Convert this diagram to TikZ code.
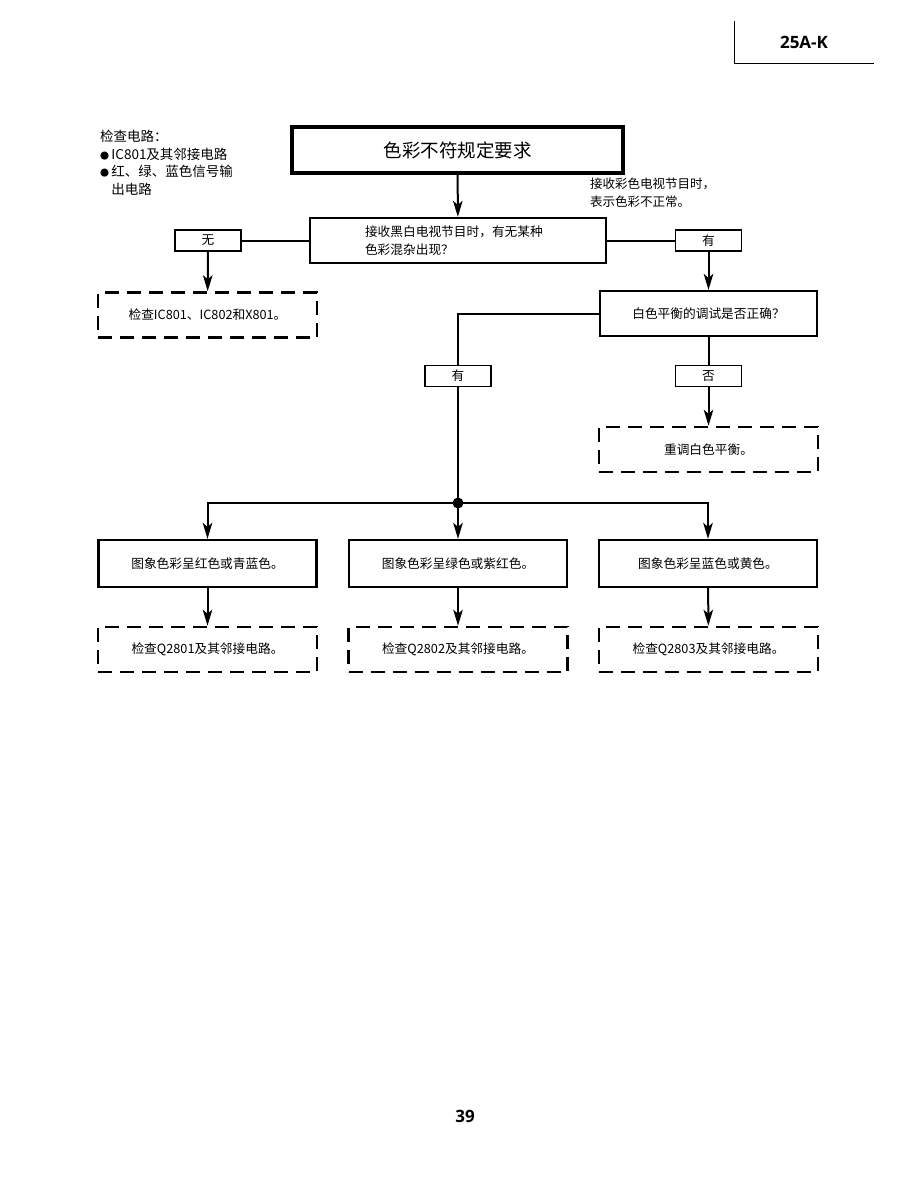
\documentclass[tikz,border=0pt]{standalone}
\usepackage{fontspec}
\setmainfont{Noto Sans CJK SC}
\newfontfamily\headfont{Open Sans}
\usetikzlibrary{arrows.meta,positioning}
\newcommand{\bul}{{\fontsize{9}{9}\selectfont●}\,}

\begin{document}
\begin{tikzpicture}[
  x=1pt, y=-1pt,
  font=\fontsize{12.7}{15}\selectfont,
  >={Stealth[length=16pt,width=9.5pt,inset=4pt]},
  titlebox/.style={rectangle, draw, line width=3.2pt, align=center,
                   minimum width=331pt, minimum height=46pt,
                   font=\fontsize{18.5}{21}\selectfont},
  askbox/.style={rectangle, draw, line width=2.2pt, align=center,
                 minimum height=45pt},
  tagbox/.style={rectangle, draw, line width=1.2pt, minimum width=66pt,
                 minimum height=21pt, inner sep=0pt},
  chkbox/.style={rectangle, draw, line width=2.5pt,
                 dash pattern=on 14pt off 8pt, minimum width=219pt,
                 minimum height=45pt, align=center},
  resbox/.style={askbox, minimum width=218pt, minimum height=47pt},
  edge/.style={->, line width=2pt},
  link/.style={line width=2pt},
  dot/.style={circle, fill, inner sep=0pt, minimum size=11pt},
  note/.style={align=left, anchor=north west, inner sep=0pt,
               font=\fontsize{13.5}{17.5}\selectfont},
]
\useasboundingbox (0,0) rectangle (918,1188);

% page header and number
\coordinate (hdtop) at (734,21);
\coordinate (hdcorner) at (734,64);
\coordinate (hdend) at (874,64);
\draw[line width=1pt] (hdtop) -- (hdcorner) -- (hdend);
\node[font=\headfont\bfseries\fontsize{17}{20}\selectfont] (model) at (804,42) {25A-K};
\node[font=\headfont\bfseries\fontsize{17}{20}\selectfont] (pageno) at (465,1116) {39};

% side notes
\node[note] (chknote) at (100,130)
  {检查电路：\\\bul IC801及其邻接电路\\\bul 红、绿、蓝色信号输\\\phantom{\bul}出电路};
\node[note, font=\fontsize{12.5}{17.5}\selectfont] (colnote) at (590,178)
  {接收彩色电视节目时，\\表示色彩不正常。};

% main chain
\node[titlebox] (fault) at (457.5,150) {色彩不符规定要求};
\node[askbox, minimum width=296pt, text width=186pt, align=left,
      font=\fontsize{12.7}{18}\selectfont] (bwask) at (458,240.5)
  {接收黑白电视节目时，有无某种\\色彩混杂出现？};
\node[tagbox] (tagno) at (208,240.5) {无};
\node[tagbox] (tagyes) at (708.5,240.5) {有};
\node[chkbox] (chkic) at (207.5,315) {检查IC801、IC802和X801。};
\node[askbox, minimum width=217pt] (wbask) at (708.5,313.5) {白色平衡的调试是否正确？};
\node[tagbox] (tagok) at (458,376) {有};
\node[tagbox] (tagnot) at (708.5,376) {否};
\node[chkbox] (rewb) at (708.5,449.5) {重调白色平衡。};
\node[dot] (junc) at (458,503) {};

% three colour cases
\node[resbox] (redcase) at (207.5,563.5) {图象色彩呈红色或青蓝色。};
\node[resbox] (grncase) at (458,563.5) {图象色彩呈绿色或紫红色。};
\node[resbox] (blucase) at (708,563.5) {图象色彩呈蓝色或黄色。};
\node[chkbox] (chkq1) at (207.5,649.5) {检查Q2801及其邻接电路。};
\node[chkbox] (chkq2) at (458,649.5) {检查Q2802及其邻接电路。};
\node[chkbox] (chkq3) at (708.5,649.5) {检查Q2803及其邻接电路。};

% connectors
\draw[edge] (fault) -- (bwask);
\draw[link] (bwask.west) -- (tagno.east);
\draw[link] (bwask.east) -- (tagyes.west);
\draw[edge] (tagno) -- (chkic);
\draw[edge] (tagyes) -- (wbask);
\draw[link] (wbask.west) -| (tagok.north);
\draw[link] (tagok.south) -- (junc.center);
\draw[link] (wbask) -- (tagnot);
\draw[edge] (tagnot) -- (rewb);
\draw[edge] (junc.center) -| (redcase.north);
\draw[edge] (junc.center) -- (grncase.north);
\draw[edge] (junc.center) -| (blucase.north);
\draw[edge] (redcase) -- (chkq1);
\draw[edge] (grncase) -- (chkq2);
\draw[edge] (blucase) -- (chkq3);
\end{tikzpicture}
\end{document}
